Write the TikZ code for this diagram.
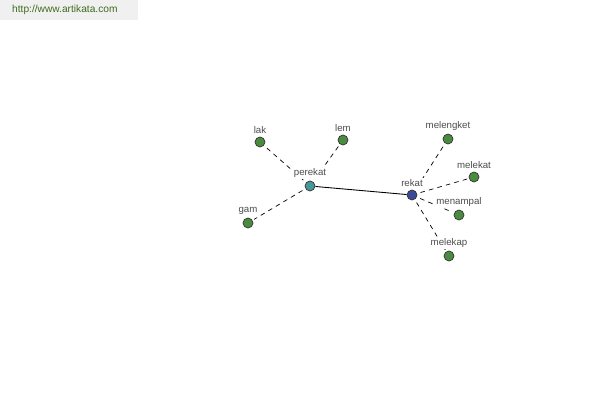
\documentclass[tikz,border=0pt]{standalone}
\usepackage{fontspec}
\setsansfont{Liberation Sans}
\usetikzlibrary{calc,backgrounds}

\definecolor{leafgreen}{HTML}{4A8C3F}
\definecolor{hubteal}{HTML}{4A9696}
\definecolor{hubblue}{HTML}{3C4898}
\definecolor{urlgreen}{HTML}{3F6B1E}

\tikzset{
  word/.style={circle,draw=black!80,line width=0.4pt,minimum size=0.2cm,inner sep=0pt},
  lbl/.style={font=\sffamily\fontsize{5.5}{6}\selectfont,text=black!70,fill=white,inner sep=1pt,label distance=0.5pt},
  link/.style={line width=0.4pt,dash pattern=on 2.6pt off 2.4pt,shorten <=2pt,shorten >=1pt},
}

\begin{document}
\begin{tikzpicture}[x=0.02cm,y=-0.02cm]
  \useasboundingbox (0,0) rectangle (600,400);
  \fill[black!6] (0,0) rectangle (138,20);
  \node[font=\sffamily\fontsize{5.8}{7}\selectfont,text=urlgreen,anchor=west] (url) at (6,10) {http://www.artikata.com};

  \node[word,fill=hubteal,label={[lbl]above:perekat}] (perekat) at (310,186) {};
  \node[word,fill=hubblue,label={[lbl]above:rekat}] (rekat) at (412,195) {};
  \node[word,fill=leafgreen,label={[lbl]above:lak}] (lak) at (260,142) {};
  \node[word,fill=leafgreen,label={[lbl]above:lem}] (lem) at (343,140) {};
  \node[word,fill=leafgreen,label={[lbl]above:gam}] (gam) at (248,223) {};
  \node[word,fill=leafgreen,label={[lbl]above:melengket}] (melengket) at (448,139) {};
  \node[word,fill=leafgreen,label={[lbl]above:melekat}] (melekat) at (474,177) {};
  \node[word,fill=leafgreen,label={[lbl]above:menampal}] (menampal) at (459,215) {};
  \node[word,fill=leafgreen,label={[lbl]above:melekap}] (melekap) at (449,256) {};

  \begin{scope}[on background layer]
    \draw[line width=0.5pt] (perekat) -- (rekat);
    \draw[link] (perekat) -- (lak);
    \draw[link] (perekat) -- (lem);
    \draw[link] (perekat) -- (gam);
    \draw[link] (rekat) -- (melengket);
    \draw[link] (rekat) -- (melekat);
    \draw[link] (rekat) -- (menampal);
    \draw[link] (rekat) -- (melekap);
  \end{scope}
\end{tikzpicture}
\end{document}
